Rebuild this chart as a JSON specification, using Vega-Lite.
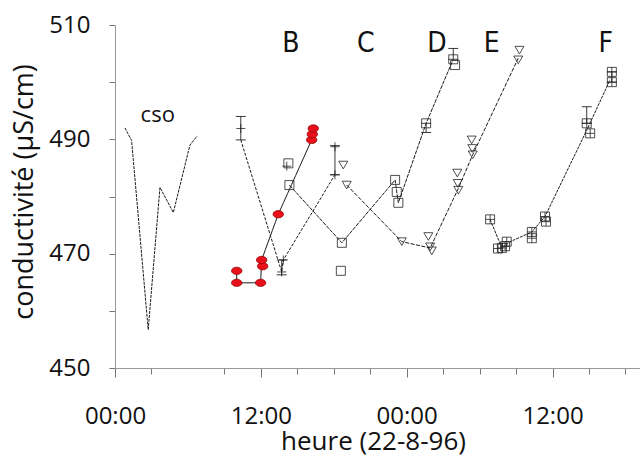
{
  "$schema": "https://vega.github.io/schema/vega-lite/v6.json",
  "width": 525,
  "height": 343,
  "autosize": {"type": "none"},
  "padding": {"left": 115, "top": 25, "right": 0, "bottom": 89},
  "background": "white",
  "config": {"view": {"stroke": null}, "font": "Open Sans"},
  "datasets": {
    "lines": [
      {"s": "cso", "o": 1, "t": "1996-08-22T00:49", "v": 492.0},
      {"s": "cso", "o": 2, "t": "1996-08-22T01:22", "v": 489.8},
      {"s": "cso", "o": 3, "t": "1996-08-22T02:44", "v": 456.7},
      {"s": "cso", "o": 4, "t": "1996-08-22T03:42", "v": 481.6},
      {"s": "cso", "o": 5, "t": "1996-08-22T04:48", "v": 477.2},
      {"s": "cso", "o": 6, "t": "1996-08-22T06:10", "v": 489.0},
      {"s": "cso", "o": 7, "t": "1996-08-22T06:46", "v": 490.6},
      {"s": "B", "o": 1, "t": "1996-08-22T10:01", "v": 467.0},
      {"s": "B", "o": 2, "t": "1996-08-22T10:01", "v": 464.9},
      {"s": "B", "o": 3, "t": "1996-08-22T11:59", "v": 464.9},
      {"s": "B", "o": 4, "t": "1996-08-22T12:04", "v": 468.9},
      {"s": "B", "o": 5, "t": "1996-08-22T13:26", "v": 476.9},
      {"s": "B", "o": 6, "t": "1996-08-22T16:11", "v": 489.9},
      {"s": "B", "o": 7, "t": "1996-08-22T16:14", "v": 490.9},
      {"s": "B", "o": 8, "t": "1996-08-22T16:19", "v": 491.9},
      {"s": "C", "o": 1, "t": "1996-08-22T10:21", "v": 489.9},
      {"s": "C", "o": 2, "t": "1996-08-22T13:43", "v": 466.8},
      {"s": "C", "o": 3, "t": "1996-08-22T13:51", "v": 468.9},
      {"s": "C", "o": 4, "t": "1996-08-22T18:06", "v": 483.8},
      {"s": "D", "o": 1, "t": "1996-08-22T14:21", "v": 482.0},
      {"s": "D", "o": 2, "t": "1996-08-22T18:40", "v": 471.9},
      {"s": "D", "o": 3, "t": "1996-08-22T23:03", "v": 482.9},
      {"s": "D", "o": 4, "t": "1996-08-22T23:11", "v": 480.8},
      {"s": "D", "o": 5, "t": "1996-08-22T23:19", "v": 478.9},
      {"s": "D", "o": 6, "t": "1996-08-23T01:36", "v": 492.8},
      {"s": "D", "o": 7, "t": "1996-08-23T03:50", "v": 504.0},
      {"s": "E", "o": 1, "t": "1996-08-22T19:04", "v": 482.0},
      {"s": "E", "o": 2, "t": "1996-08-22T23:36", "v": 472.1},
      {"s": "E", "o": 3, "t": "1996-08-23T01:56", "v": 471.0},
      {"s": "E", "o": 4, "t": "1996-08-23T04:15", "v": 481.4},
      {"s": "E", "o": 5, "t": "1996-08-23T05:26", "v": 487.3},
      {"s": "E", "o": 6, "t": "1996-08-23T09:11", "v": 504.2},
      {"s": "F", "o": 1, "t": "1996-08-23T06:52", "v": 476.0},
      {"s": "F", "o": 2, "t": "1996-08-23T07:50", "v": 471.0},
      {"s": "F", "o": 3, "t": "1996-08-23T08:31", "v": 472.1},
      {"s": "F", "o": 4, "t": "1996-08-23T10:18", "v": 473.8},
      {"s": "F", "o": 5, "t": "1996-08-23T11:23", "v": 476.5},
      {"s": "F", "o": 6, "t": "1996-08-23T14:49", "v": 491.6},
      {"s": "F", "o": 7, "t": "1996-08-23T16:44", "v": 500.4}
    ],
    "red": [
      {"t": "1996-08-22T10:01", "v": 467.0},
      {"t": "1996-08-22T10:01", "v": 464.9},
      {"t": "1996-08-22T11:59", "v": 464.9},
      {"t": "1996-08-22T12:09", "v": 467.8},
      {"t": "1996-08-22T12:04", "v": 468.9},
      {"t": "1996-08-22T13:26", "v": 476.9},
      {"t": "1996-08-22T16:11", "v": 489.9},
      {"t": "1996-08-22T16:14", "v": 490.9},
      {"t": "1996-08-22T16:19", "v": 491.9}
    ],
    "pts": [
      {"m": "plus", "t": "1996-08-22T10:21", "v": 491.9},
      {"m": "plus", "t": "1996-08-22T13:51", "v": 468.9},
      {"m": "plus", "t": "1996-08-22T13:43", "v": 466.8},
      {"m": "plus", "t": "1996-08-22T18:06", "v": 488.7},
      {"m": "plus", "t": "1996-08-22T18:06", "v": 483.8},
      {"m": "plus", "t": "1996-08-22T14:08", "v": 485.3},
      {"m": "square", "t": "1996-08-22T14:16", "v": 485.8},
      {"m": "square", "t": "1996-08-22T14:21", "v": 482.0},
      {"m": "square", "t": "1996-08-22T18:40", "v": 471.9},
      {"m": "square", "t": "1996-08-22T18:35", "v": 467.0},
      {"m": "square", "t": "1996-08-22T23:03", "v": 482.9},
      {"m": "square", "t": "1996-08-22T23:11", "v": 480.8},
      {"m": "square", "t": "1996-08-22T23:19", "v": 478.9},
      {"m": "square", "t": "1996-08-23T01:36", "v": 492.8},
      {"m": "square", "t": "1996-08-23T03:50", "v": 504.0},
      {"m": "square", "t": "1996-08-23T03:59", "v": 503.0},
      {"m": "tri", "t": "1996-08-22T18:47", "v": 485.5},
      {"m": "tri", "t": "1996-08-22T19:04", "v": 482.0},
      {"m": "tri", "t": "1996-08-22T23:36", "v": 472.1},
      {"m": "tri", "t": "1996-08-23T01:47", "v": 473.0},
      {"m": "tri", "t": "1996-08-23T01:56", "v": 471.2},
      {"m": "tri", "t": "1996-08-23T02:04", "v": 470.5},
      {"m": "tri", "t": "1996-08-23T04:10", "v": 484.1},
      {"m": "tri", "t": "1996-08-23T04:12", "v": 482.3},
      {"m": "tri", "t": "1996-08-23T04:15", "v": 481.1},
      {"m": "tri", "t": "1996-08-23T05:21", "v": 489.9},
      {"m": "tri", "t": "1996-08-23T05:24", "v": 488.4},
      {"m": "tri", "t": "1996-08-23T05:26", "v": 487.3},
      {"m": "tri", "t": "1996-08-23T09:17", "v": 505.6},
      {"m": "tri", "t": "1996-08-23T09:11", "v": 503.9},
      {"m": "sqplus", "t": "1996-08-23T06:52", "v": 476.0},
      {"m": "sqplus", "t": "1996-08-23T07:31", "v": 470.9},
      {"m": "sqplus", "t": "1996-08-23T07:50", "v": 471.0},
      {"m": "sqplus", "t": "1996-08-23T08:06", "v": 471.3},
      {"m": "sqplus", "t": "1996-08-23T08:14", "v": 472.1},
      {"m": "sqplus", "t": "1996-08-23T10:18", "v": 473.8},
      {"m": "sqplus", "t": "1996-08-23T10:18", "v": 472.7},
      {"m": "sqplus", "t": "1996-08-23T11:23", "v": 476.5},
      {"m": "sqplus", "t": "1996-08-23T11:28", "v": 475.6},
      {"m": "sqplus", "t": "1996-08-23T14:49", "v": 492.8},
      {"m": "sqplus", "t": "1996-08-23T15:06", "v": 491.05},
      {"m": "sqplus", "t": "1996-08-23T16:53", "v": 501.8},
      {"m": "sqplus", "t": "1996-08-23T16:53", "v": 500.0}
    ],
    "err": [
      {"t": "1996-08-22T10:21", "v": 489.9, "v2": 494.0},
      {"t": "1996-08-22T13:43", "v": 466.3, "v2": 468.9},
      {"t": "1996-08-22T18:06", "v": 483.8, "v2": 488.9},
      {"t": "1996-08-23T01:36", "v": 491.2, "v2": 492.8},
      {"t": "1996-08-23T03:50", "v": 504.0, "v2": 505.9},
      {"t": "1996-08-23T14:49", "v": 492.8, "v2": 495.7},
      {"t": "1996-08-23T16:53", "v": 500.0, "v2": 501.8}
    ],
    "txt": [
      {"k": "letter", "label": "B", "t": "1996-08-22T14:29", "v": 505.2},
      {"k": "letter", "label": "C", "t": "1996-08-22T20:38", "v": 505.2},
      {"k": "letter", "label": "D", "t": "1996-08-23T02:29", "v": 505.2},
      {"k": "letter", "label": "E", "t": "1996-08-23T07:00", "v": 505.2},
      {"k": "letter", "label": "F", "t": "1996-08-23T16:23", "v": 505.2},
      {"k": "cso", "label": "cso", "t": "1996-08-22T03:31", "v": 493.1}
    ]
  },
  "encoding": {
    "x": {
      "field": "t",
      "type": "temporal",
      "scale": {"domain": [{"year": 1996, "month": 8, "date": 22, "hours": 0}, {"year": 1996, "month": 8, "date": 23, "hours": 19, "minutes": 12}]},
      "axis": {
        "title": "heure (22-8-96)",
        "values": [
          {"year": 1996, "month": 8, "date": 22, "hours": 0},
          {"year": 1996, "month": 8, "date": 22, "hours": 3},
          {"year": 1996, "month": 8, "date": 22, "hours": 9},
          {"year": 1996, "month": 8, "date": 22, "hours": 12},
          {"year": 1996, "month": 8, "date": 22, "hours": 15},
          {"year": 1996, "month": 8, "date": 22, "hours": 18},
          {"year": 1996, "month": 8, "date": 22, "hours": 21},
          {"year": 1996, "month": 8, "date": 23, "hours": 0},
          {"year": 1996, "month": 8, "date": 23, "hours": 3},
          {"year": 1996, "month": 8, "date": 23, "hours": 6},
          {"year": 1996, "month": 8, "date": 23, "hours": 9},
          {"year": 1996, "month": 8, "date": 23, "hours": 12},
          {"year": 1996, "month": 8, "date": 23, "hours": 15},
          {"year": 1996, "month": 8, "date": 23, "hours": 18}
        ],
        "labelExpr": "hours(datum.value) % 12 == 0 ? timeFormat(datum.value, '%H:%M') : ''",
        "grid": false,
        "domainColor": "#9a9a9a",
        "tickColor": "#777777",
        "tickSize": {"condition": {"test": "hours(datum.value) % 12 == 0", "value": 9}, "value": 6},
        "labelBaseline": "alphabetic",
        "labelPadding": 46,
        "labelDx": -7,
        "labelFontSize": 24,
        "labelColor": "#111111",
        "labelFlush": false,
        "labelOverlap": false,
        "labelBound": false,
        "titleFontSize": 26,
        "titleFontWeight": "normal",
        "titleColor": "#111111",
        "titleX": 258,
        "titleY": 81,
        "titleAlign": "center",
        "titleBaseline": "alphabetic"
      }
    },
    "y": {
      "field": "v",
      "type": "quantitative",
      "scale": {"domain": [450, 510], "nice": false, "zero": false},
      "axis": {
        "title": "conductivité (µS/cm)",
        "values": [450, 460, 470, 480, 490, 500, 510],
        "labelExpr": "datum.value % 20 == 10 ? datum.label : ''",
        "grid": false,
        "domainColor": "#9a9a9a",
        "tickColor": "#777777",
        "tickSize": 6,
        "labelPadding": 19,
        "labelFontSize": 24,
        "labelColor": "#111111",
        "labelBaseline": "middle",
        "labelFlush": false,
        "labelOverlap": false,
        "labelBound": false,
        "titleFontSize": 27,
        "titleFontWeight": "normal",
        "titleColor": "#111111",
        "titleAngle": -90,
        "titleX": -83,
        "titleY": 166.5,
        "titleAlign": "center",
        "titleBaseline": "alphabetic"
      }
    }
  },
  "layer": [
    {
      "data": {"name": "lines"},
      "mark": {"type": "line", "color": "#1a1a1a", "strokeWidth": 1},
      "encoding": {
        "detail": {"field": "s", "type": "nominal"},
        "order": {"field": "o", "type": "quantitative"},
        "strokeDash": {
          "field": "s",
          "type": "nominal",
          "scale": {"domain": ["cso", "B", "C", "D", "E", "F"], "range": [[3, 1], [10, 0], [3, 1.5], [4, 1], [4, 1.5], [3, 1]]},
          "legend": null
        }
      }
    },
    {
      "data": {"name": "err"},
      "mark": {"type": "rule", "color": "#222222", "strokeWidth": 0.9},
      "encoding": {"y2": {"field": "v2"}}
    },
    {
      "data": {"name": "err"},
      "transform": [{"fold": ["v", "v2"], "as": ["k", "v"]}],
      "mark": {"type": "point", "shape": "M-1,0H1", "size": 100, "filled": false, "color": "#222222", "strokeWidth": 0.9, "opacity": 1}
    },
    {
      "data": {"name": "pts"},
      "mark": {"type": "point", "filled": false, "color": "#222222", "strokeWidth": 0.8, "opacity": 1, "size": 81},
      "encoding": {
        "shape": {
          "field": "m",
          "type": "nominal",
          "scale": {
            "domain": ["square", "plus", "tri", "sqplus"],
            "range": ["M-1,-1H1V1H-1Z", "M-1,0H1M0,-1V1", "M-1,-0.85L1,-0.85L0,0.85Z", "M-1,-1H1V1H-1ZM-1,0H1M0,-1V1"]
          },
          "legend": null
        }
      }
    },
    {
      "data": {"name": "red"},
      "mark": {"type": "point", "filled": true, "fill": "#e8101a", "stroke": "#8a0000", "strokeWidth": 0.7, "opacity": 1, "size": 110, "shape": "M-1,0A1,0.7,0,1,1,1,0A1,0.7,0,1,1,-1,0Z"}
    },
    {
      "data": {"name": "txt"},
      "transform": [{"filter": "datum.k == 'letter'"}],
      "mark": {"type": "text", "font": "Liberation Sans Narrow, DejaVu Sans Condensed, Liberation Sans", "fontSize": 28, "align": "center", "baseline": "alphabetic", "color": "#111111"},
      "encoding": {"text": {"field": "label"}}
    },
    {
      "data": {"name": "txt"},
      "transform": [{"filter": "datum.k == 'cso'"}],
      "mark": {"type": "text", "font": "Open Sans", "fontSize": 22, "align": "center", "baseline": "alphabetic", "color": "#111111"},
      "encoding": {"text": {"field": "label"}}
    }
  ]
}
